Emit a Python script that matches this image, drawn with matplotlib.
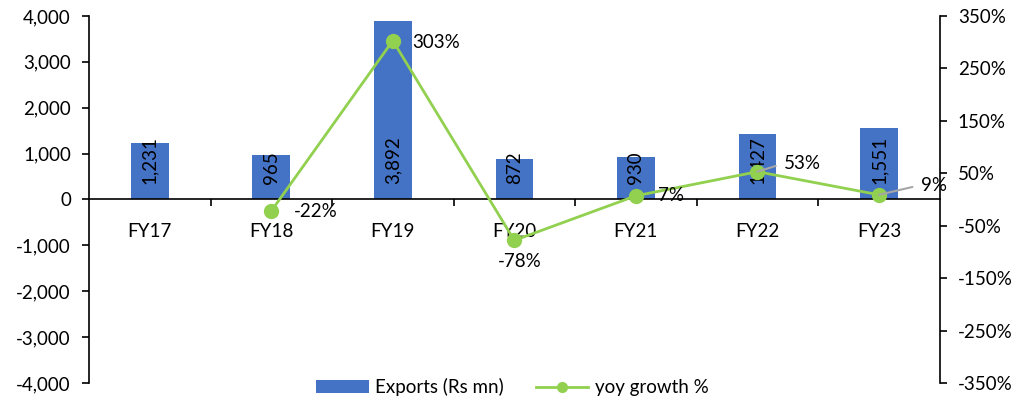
import matplotlib.pyplot as plt
from matplotlib.ticker import FuncFormatter

years = ["FY17", "FY18", "FY19", "FY20", "FY21", "FY22", "FY23"]
exports = [1231, 965, 3892, 872, 930, 1427, 1551]
growth = [None, -22, 303, -78, 7, 53, 9]

plt.rcParams['font.family'] = ['Lato', 'DejaVu Sans']
plt.rcParams['font.size'] = 13.5

blue = "#4472C4"
green = "#92D050"

fig = plt.figure(figsize=(10.25, 4.07), dpi=100)
ax = fig.add_axes([0.0868, 0.059, 0.8300, 0.9017])
x = list(range(len(years)))

ax.bar(x, exports, width=0.31, color=blue, label="Exports (Rs mn)", zorder=2)
for xi, v in zip(x, exports):
    ax.annotate(f"{v:,}", (xi, 0), xytext=(0, 11), textcoords="offset points",
                rotation=90, ha="center", va="bottom", zorder=3)

ax.set_xlim(-0.5, 6.5)
ax.set_ylim(-4000, 4000)
ax.set_yticks(range(-4000, 4001, 1000))
ax.yaxis.set_major_formatter(FuncFormatter(lambda v, p: f"{v:,.0f}".replace("\u2212", "-")))
ax.set_xticks(x)
ax.set_xticklabels(years)
ax.set_xticks([i + 0.5 for i in x[:-1]], minor=True)
ax.tick_params(axis="x", which="major", length=0, pad=17)
ax.tick_params(axis="x", which="minor", length=5, width=1.2, direction="out")
ax.tick_params(axis="y", length=5, width=1.2, direction="out", pad=8)
ax.spines["bottom"].set_position(("data", 0))
ax.spines["top"].set_visible(False)
ax.spines["right"].set_visible(False)
for s in ["bottom", "left"]:
    ax.spines[s].set_linewidth(1.2)

ax2 = ax.twinx()
gx = [xi for xi, g in zip(x, growth) if g is not None]
gy = [g for g in growth if g is not None]
ax2.plot(gx, gy, color=green, lw=2, marker="o", markersize=10, label="yoy growth %", zorder=4)
ax2.set_ylim(-350, 350)
ax2.set_yticks(range(-350, 351, 100))
ax2.yaxis.set_major_formatter(FuncFormatter(lambda v, p: f"{v:.0f}%"))
ax2.tick_params(axis="y", length=5, width=1.2, direction="out", pad=8)
for s in ["top", "left", "bottom"]:
    ax2.spines[s].set_visible(False)
ax2.spines["right"].set_linewidth(1.2)

offsets = {
    -22: ((16, 0), "left", False),
    303: ((14, -1), "left", False),
    -78: ((4, -15), "center", False),
    7: ((16, 0), "left", False),
    53: ((19, 6), "left", True),
    9: ((30, 7), "left", True),
}
for xi, g in zip(gx, gy):
    off, ha, leader = offsets[g]
    kw = {}
    if leader:
        kw["arrowprops"] = dict(arrowstyle="-", color="#A6A6A6", lw=1.5, shrinkA=4, shrinkB=0,
                                relpos=(0, 0.5))
    ax2.annotate(f"{g}%", (xi, g), xytext=off, textcoords="offset points",
                 ha=ha, va="center", zorder=5, **kw)

h1, l1 = ax.get_legend_handles_labels()
h2, l2 = ax2.get_legend_handles_labels()
fig.legend(h1 + h2, l1 + l2, loc="lower center", bbox_to_anchor=(0.5, -0.015), ncol=2,
           frameon=False, handlelength=2.8, handletextpad=0.35, columnspacing=1.7,
           markerscale=0.7)

fig.savefig("out.png", dpi=100)
